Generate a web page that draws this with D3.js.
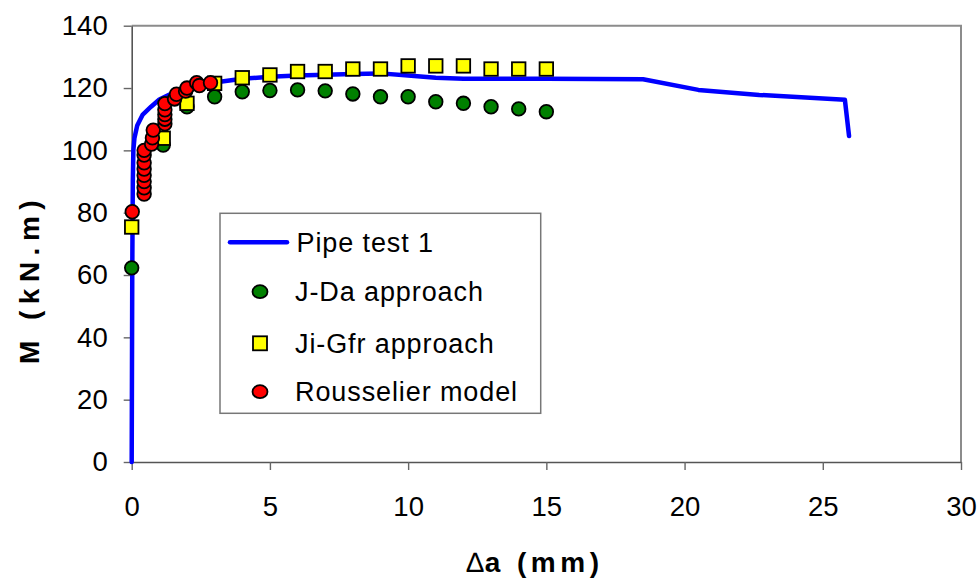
<!DOCTYPE html>
<html>
<head>
<meta charset="utf-8">
<script src="https://cdn.jsdelivr.net/npm/d3@7"></script>
<style>
  html, body { margin: 0; padding: 0; background: #fff; }
  svg { display: block; font-family: "Liberation Sans", Arial, sans-serif; }
</style>
</head>
<body>
<svg id="chart" width="979" height="581"></svg>
<script>
// Moment vs crack growth: pipe test curve and three fracture predictions
const pipeTestX = [0, 0.02, 0.04, 0.06, 0.1, 0.2, 0.4, 0.7, 1.0, 1.5, 2.0, 3.0, 4.0, 5.0, 6.0, 8.0, 9.0, 10.0, 11.0, 12.0, 15.0, 18.5, 20.5, 22.7, 25.8, 25.95];
const pipeTestM = [0, 60, 90, 100, 104, 108, 111.5, 114, 116.3, 118.5, 120, 121.8, 123, 123.6, 124, 124.5, 124.7, 124, 123.3, 123, 123, 122.8, 119.4, 117.8, 116.2, 104.6];

const jdaX = [0, 1.14, 2.0, 3, 4, 5, 6, 7, 8, 9, 10, 11, 12, 13, 14, 15];
const jdaM = [62.3, 101.7, 114, 117.2, 118.8, 119.2, 119.4, 119.1, 118.1, 117.2, 117.2, 115.6, 115.1, 114, 113.3, 112.4];

const jgfrX = [0, 1.14, 2.0, 3, 4, 5, 6, 7, 8, 9, 10, 11, 12, 13, 14, 15];
const jgfrM = [75.4, 103.9, 115.1, 121.5, 123.3, 124.2, 125.3, 125.3, 126.1, 126.1, 127.1, 127.1, 127.1, 126.1, 126.1, 126.1];

const rousX = [0.02, 0.45, 0.45, 0.45, 0.45, 0.45, 0.45, 0.45, 0.45, 0.72, 0.75, 0.78, 1.2, 1.2, 1.2, 1.2, 1.2, 1.55, 1.62, 1.95, 2.0, 2.35, 2.45, 2.85];
const rousM = [80.3, 86, 88, 90, 92, 94, 96, 98.5, 100, 102, 104, 106.5, 108.5, 110, 111.5, 113, 115, 116.5, 118, 119, 120, 121.7, 120.8, 121.7];

const xTicks = [0, 5, 10, 15, 20, 25, 30];
const yTicks = [0, 20, 40, 60, 80, 100, 120, 140];

const legendLabels = ["Pipe test 1", "J-Da approach", "Ji-Gfr approach", "Rousselier model"];

const svg = d3.select("#chart");
const plot = { left: 131.7, right: 961, top: 25.7, bottom: 462 };

const x = d3.scaleLinear().domain([0, 30]).range([plot.left, plot.right]);
const y = d3.scaleLinear().domain([0, 140]).range([plot.bottom, plot.top]);

// plot-area frame (top and right edges)
svg.append("path")
  .attr("d", `M${plot.left},${plot.top}H${plot.right}V${plot.bottom}`)
  .attr("fill", "none").attr("stroke", "#8c8c8c").attr("stroke-width", 2);

// axes
const xAxis = svg.append("g")
  .attr("transform", `translate(0,${plot.bottom})`)
  .call(d3.axisBottom(x).tickValues(xTicks).tickSize(8).tickPadding(26).tickSizeOuter(0));
const yAxis = svg.append("g")
  .attr("transform", `translate(${plot.left},0)`)
  .call(d3.axisLeft(y).tickValues(yTicks).tickSize(8).tickPadding(16).tickSizeOuter(0));

[xAxis, yAxis].forEach(g => {
  g.select(".domain").attr("stroke", "#555").attr("stroke-width", 1.6);
  g.selectAll(".tick line").attr("stroke", "#666").attr("stroke-width", 1.4);
  g.selectAll(".tick text")
    .attr("fill", "#000")
    .style("font-family", "'Liberation Sans', Arial, sans-serif")
    .style("font-size", "27.5px");
});

// axis titles
const xTitle = svg.append("text")
  .attr("x", 535).attr("y", 572)
  .attr("text-anchor", "middle")
  .style("font-size", "28px").style("font-weight", "bold").style("letter-spacing", "4.5px");
xTitle.append("tspan").style("font-weight", "normal").style("letter-spacing", "1px").text("\u2206");
xTitle.append("tspan").text("a (mm)");

svg.append("text")
  .attr("transform", "translate(39,279) rotate(-90)")
  .attr("text-anchor", "middle")
  .style("font-size", "28px").style("font-weight", "bold").style("letter-spacing", "6.5px")
  .text("M (kN.m)");

// pipe test curve
const pipeData = pipeTestX.map((d, i) => [d, pipeTestM[i]]);
svg.append("path")
  .datum(pipeData)
  .attr("d", d3.line().x(d => x(d[0])).y(d => y(d[1])).curve(d3.curveLinear))
  .attr("fill", "none")
  .attr("stroke", "#0000ff")
  .attr("stroke-width", 4.5)
  .attr("stroke-linejoin", "round")
  .attr("stroke-linecap", "round");

const r = 6.8;
const sq = 13.5;

// J-Da approach
svg.append("g").selectAll("circle")
  .data(jdaX.map((d, i) => [d, jdaM[i]]))
  .join("circle")
  .attr("cx", d => x(d[0])).attr("cy", d => y(d[1])).attr("r", r)
  .attr("fill", "#008000").attr("stroke", "#000").attr("stroke-width", 1.8);

// Ji-Gfr approach
svg.append("g").selectAll("rect")
  .data(jgfrX.map((d, i) => [d, jgfrM[i]]))
  .join("rect")
  .attr("x", d => x(d[0]) - sq / 2).attr("y", d => y(d[1]) - sq / 2)
  .attr("width", sq).attr("height", sq)
  .attr("fill", "#ffff00").attr("stroke", "#000").attr("stroke-width", 1.8);

// Rousselier model
svg.append("g").selectAll("circle")
  .data(rousX.map((d, i) => [d, rousM[i]]))
  .join("circle")
  .attr("cx", d => x(d[0])).attr("cy", d => y(d[1])).attr("r", r)
  .attr("fill", "#ff0000").attr("stroke", "#000").attr("stroke-width", 1.8);

// legend
const lg = svg.append("g");
lg.append("rect")
  .attr("x", 220).attr("y", 213.3).attr("width", 320.7).attr("height", 200)
  .attr("fill", "#fff").attr("stroke", "#777").attr("stroke-width", 1.5);

const rowsY = [242.3, 291.7, 343.3, 391.7];
lg.append("line")
  .attr("x1", 230).attr("x2", 287).attr("y1", rowsY[0]).attr("y2", rowsY[0])
  .attr("stroke", "#0000ff").attr("stroke-width", 4.5).attr("stroke-linecap", "round");
lg.append("ellipse").attr("cx", 260).attr("cy", rowsY[1]).attr("rx", 7.5).attr("ry", 6.5)
  .attr("fill", "#008000").attr("stroke", "#000").attr("stroke-width", 1.8);
lg.append("rect").attr("x", 260 - 7).attr("y", rowsY[2] - 7).attr("width", 14).attr("height", 14)
  .attr("fill", "#ffff00").attr("stroke", "#000").attr("stroke-width", 1.8);
lg.append("ellipse").attr("cx", 260).attr("cy", rowsY[3]).attr("rx", 7.5).attr("ry", 6.5)
  .attr("fill", "#ff0000").attr("stroke", "#000").attr("stroke-width", 1.8);

lg.selectAll("text.lbl")
  .data(legendLabels)
  .join("text")
  .attr("class", "lbl")
  .attr("x", (d, i) => i === 0 ? 296.5 : 295)
  .attr("y", (d, i) => rowsY[i] + 9.5)
  .style("font-size", "27px").style("letter-spacing", "0.9px")
  .attr("fill", "#000")
  .text(d => d);
</script>
</body>
</html>
